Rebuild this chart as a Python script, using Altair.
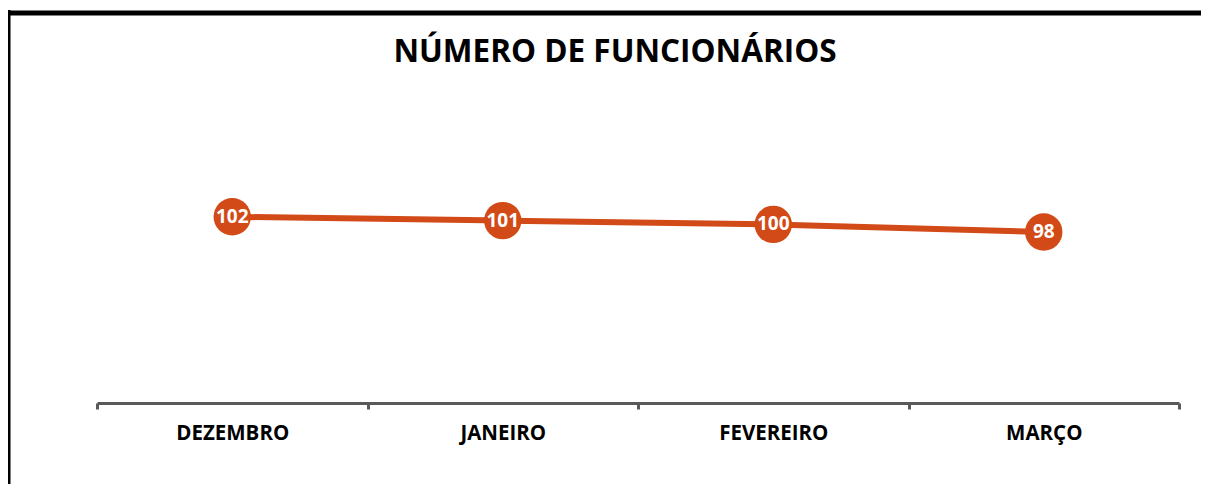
import altair as alt
import pandas as pd

meses = ["DEZEMBRO", "JANEIRO", "FEVEREIRO", "MARÇO"]
funcionarios = [102, 101, 100, 98]

titulo = "NÚMERO DE FUNCIONÁRIOS"
cor = "#D24A17"
fonte = "Open Sans"

df = pd.DataFrame({"mes": meses, "valor": funcionarios})

x = alt.X("mes:N", sort=meses,
          scale=alt.Scale(type="band", paddingInner=0, paddingOuter=0),
          axis=alt.Axis(title=None, grid=False, labelAngle=0,
                        domainColor="#595959", domainWidth=3,
                        tickColor="#595959", tickWidth=3, tickSize=6,
                        tickBand="extent",
                        labelFont=fonte, labelFontWeight="bold",
                        labelFontSize=20.5, labelColor="black",
                        labelPadding=14))
y = alt.Y("valor:Q", scale=alt.Scale(domain=[53, 138], nice=False, zero=False),
          axis=None)

base = alt.Chart(df)
line = base.mark_line(color=cor, strokeWidth=6).encode(x=x, y=y)
pts = base.mark_circle(color=cor, opacity=1, size=1400).encode(x=x, y=y)
txt = base.mark_text(color="white", font=fonte, fontWeight="bold",
                     fontSize=19, baseline="middle", align="center").encode(
    x=x, y=y, text="valor:Q")

frame_df = pd.DataFrame({"k": [0]})
top_rule = alt.Chart(frame_df).mark_rule(color="black", strokeWidth=5).encode(
    x=alt.value(-92), x2=alt.value(1200), y=alt.value(-67))
left_rule = alt.Chart(frame_df).mark_rule(color="black", strokeWidth=5).encode(
    x=alt.value(-89), y=alt.value(-70), y2=alt.value(500))

title_df = pd.DataFrame({"t": [titulo]})
title_mark = alt.Chart(title_df).mark_text(
    font=fonte, fontSize=31.5, fontWeight="bold", color="black",
    align="center", baseline="alphabetic").encode(
    x=alt.value(518), y=alt.value(-18), text="t:N")

chart = alt.layer(top_rule, left_rule, title_mark, line, pts, txt).properties(
    width=1082, height=323,
    autosize=alt.AutoSizeParams(type="none"),
    padding={"left": 89, "top": 72, "right": 22, "bottom": 81},
    background="white",
).configure_view(stroke=None)

chart.save("out.html", embed_options={"renderer": "svg", "actions": False})
